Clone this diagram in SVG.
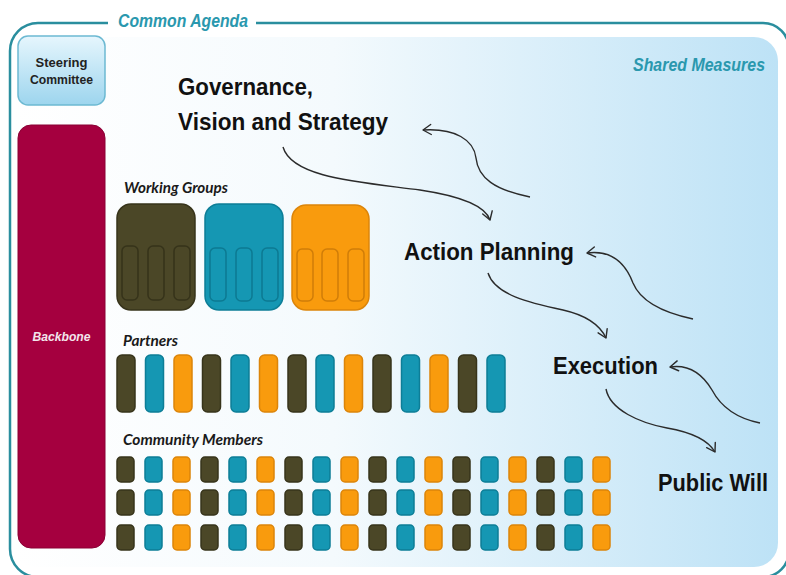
<svg xmlns="http://www.w3.org/2000/svg" width="786" height="575" viewBox="0 0 786 575">
<defs>
<linearGradient id="panelGrad" x1="0" y1="0" x2="1" y2="0">
<stop offset="0" stop-color="#ffffff"/>
<stop offset="0.42" stop-color="#f4fafd"/>
<stop offset="1" stop-color="#bde2f6"/>
</linearGradient>
<linearGradient id="steerGrad" x1="0" y1="0" x2="0" y2="1">
<stop offset="0" stop-color="#e6f6fd"/>
<stop offset="1" stop-color="#9dd5ee"/>
</linearGradient>
<marker id="chev" markerUnits="userSpaceOnUse" markerWidth="20" markerHeight="20" viewBox="-10 -10 20 20" refX="0" refY="0" orient="auto">
<path d="M-8,-5 L0,0 L-8,5" fill="none" stroke="#2b2b2b" stroke-width="1.4" stroke-linecap="round" stroke-linejoin="round"/>
</marker>
</defs>
<style>
.frame{fill:none;stroke:#2a8e9e;stroke-width:2.5}
.teal-t{font-family:"Liberation Sans",Arial,sans-serif;font-weight:bold;font-style:italic;font-size:17.5px;fill:#2a98ae}
.big{font-family:"Liberation Sans",Arial,sans-serif;font-weight:bold;font-size:24px;fill:#111}
.lbl{font-family:Lato,"Liberation Sans",sans-serif;font-weight:bold;font-style:italic;font-size:15px;fill:#1a1a1a}
.ol{fill:#4b4727;stroke:#37341b;stroke-width:1.5}
.te{fill:#1597b3;stroke:#0d7e97;stroke-width:1.5}
.or{fill:#f99b0d;stroke:#dc850a;stroke-width:1.5}
.in-ol{fill:#4b4727;stroke:#36331a;stroke-width:1.5}
.in-te{fill:#1597b3;stroke:#0c7a92;stroke-width:1.5}
.in-or{fill:#f99b0d;stroke:#d07d08;stroke-width:1.5}
.conn{fill:none;stroke:#2b2b2b;stroke-width:1.4;marker-end:url(#chev)}
</style>

<rect x="0" y="0" width="786" height="575" fill="#ffffff"/>

<g id="shared-measures">
<rect x="12" y="37" width="766" height="530" rx="24" fill="url(#panelGrad)"/>
<text class="teal-t" x="633" y="71" textLength="132" lengthAdjust="spacingAndGlyphs">Shared Measures</text>
</g>

<g id="common-agenda">
<path class="frame" d="M108,23 H38 A28,28 0 0 0 10,51 V549 A28,28 0 0 0 38,577 H763 A26,26 0 0 0 789,551 V49 A26,26 0 0 0 763,23 H256"/>
<text class="teal-t" x="118" y="27" textLength="130" lengthAdjust="spacingAndGlyphs">Common Agenda</text>
</g>

<g id="steering-committee">
<rect x="18" y="36" width="87" height="69" rx="10" fill="url(#steerGrad)" stroke="#6cb9d2" stroke-width="1.5"/>
<text x="61.5" y="67" text-anchor="middle" font-family="Liberation Sans, Arial, sans-serif" font-weight="bold" font-size="13" fill="#222" textLength="52" lengthAdjust="spacingAndGlyphs">Steering</text>
<text x="61.5" y="84" text-anchor="middle" font-family="Liberation Sans, Arial, sans-serif" font-weight="bold" font-size="13" fill="#222" textLength="63" lengthAdjust="spacingAndGlyphs">Committee</text>
</g>

<g id="backbone">
<rect x="18" y="125" width="87" height="423" rx="13" fill="#a5003f" stroke="#8a0034" stroke-width="1"/>
<text x="61.5" y="341" text-anchor="middle" font-family="Liberation Sans, Arial, sans-serif" font-weight="bold" font-style="italic" font-size="12.5" fill="#f3e6ec" textLength="58" lengthAdjust="spacingAndGlyphs">Backbone</text>
</g>

<g id="governance">
<text class="big" x="178" y="95" textLength="135" lengthAdjust="spacingAndGlyphs">Governance,</text>
<text class="big" x="178" y="130" textLength="210" lengthAdjust="spacingAndGlyphs">Vision and Strategy</text>
</g>
<g id="action-planning">
<text class="big" x="404" y="260" textLength="170" lengthAdjust="spacingAndGlyphs">Action Planning</text>
</g>
<g id="execution">
<text class="big" x="553" y="374" textLength="105" lengthAdjust="spacingAndGlyphs">Execution</text>
</g>
<g id="public-will">
<text class="big" x="658" y="491" textLength="110" lengthAdjust="spacingAndGlyphs">Public Will</text>
</g>

<g id="working-groups">
<text class="lbl" x="124" y="193" textLength="104" lengthAdjust="spacingAndGlyphs">Working Groups</text>
<rect class="ol" x="117" y="204" width="78" height="106" rx="14"/>
<rect class="in-ol" x="122" y="246" width="16" height="54" rx="5"/>
<rect class="in-ol" x="148" y="246" width="16" height="54" rx="5"/>
<rect class="in-ol" x="174" y="246" width="16" height="54" rx="5"/>
<rect class="te" x="205" y="204" width="78" height="106" rx="14"/>
<rect class="in-te" x="210" y="248" width="16" height="53" rx="5"/>
<rect class="in-te" x="236" y="248" width="16" height="53" rx="5"/>
<rect class="in-te" x="262" y="248" width="16" height="53" rx="5"/>
<rect class="or" x="292" y="205" width="77" height="105" rx="14"/>
<rect class="in-or" x="297" y="249" width="16" height="52" rx="5"/>
<rect class="in-or" x="322" y="249" width="16" height="52" rx="5"/>
<rect class="in-or" x="348" y="249" width="16" height="52" rx="5"/>
</g>

<g id="partners">
<text class="lbl" x="123" y="346" textLength="55" lengthAdjust="spacingAndGlyphs">Partners</text>
<rect class="ol" x="117" y="355" width="18" height="57" rx="5"/>
<rect class="te" x="145.5" y="355" width="18" height="57" rx="5"/>
<rect class="or" x="174" y="355" width="18" height="57" rx="5"/>
<rect class="ol" x="202.5" y="355" width="18" height="57" rx="5"/>
<rect class="te" x="231" y="355" width="18" height="57" rx="5"/>
<rect class="or" x="259.5" y="355" width="18" height="57" rx="5"/>
<rect class="ol" x="288" y="355" width="18" height="57" rx="5"/>
<rect class="te" x="316" y="355" width="18" height="57" rx="5"/>
<rect class="or" x="344.5" y="355" width="18" height="57" rx="5"/>
<rect class="ol" x="373" y="355" width="18" height="57" rx="5"/>
<rect class="te" x="401.5" y="355" width="18" height="57" rx="5"/>
<rect class="or" x="430" y="355" width="18" height="57" rx="5"/>
<rect class="ol" x="458.5" y="355" width="18" height="57" rx="5"/>
<rect class="te" x="487" y="355" width="18" height="57" rx="5"/>
</g>

<g id="community-members">
<text class="lbl" x="123" y="445" textLength="140" lengthAdjust="spacingAndGlyphs">Community Members</text>
<g id="cm-row1">
<rect class="ol" x="117" y="457" width="17" height="25" rx="4"/>
<rect class="te" x="145" y="457" width="17" height="25" rx="4"/>
<rect class="or" x="173" y="457" width="17" height="25" rx="4"/>
<rect class="ol" x="201" y="457" width="17" height="25" rx="4"/>
<rect class="te" x="229" y="457" width="17" height="25" rx="4"/>
<rect class="or" x="257" y="457" width="17" height="25" rx="4"/>
<rect class="ol" x="285" y="457" width="17" height="25" rx="4"/>
<rect class="te" x="313" y="457" width="17" height="25" rx="4"/>
<rect class="or" x="341" y="457" width="17" height="25" rx="4"/>
<rect class="ol" x="369" y="457" width="17" height="25" rx="4"/>
<rect class="te" x="397" y="457" width="17" height="25" rx="4"/>
<rect class="or" x="425" y="457" width="17" height="25" rx="4"/>
<rect class="ol" x="453" y="457" width="17" height="25" rx="4"/>
<rect class="te" x="481" y="457" width="17" height="25" rx="4"/>
<rect class="or" x="509" y="457" width="17" height="25" rx="4"/>
<rect class="ol" x="537" y="457" width="17" height="25" rx="4"/>
<rect class="te" x="565" y="457" width="17" height="25" rx="4"/>
<rect class="or" x="593" y="457" width="17" height="25" rx="4"/>
</g>
<g id="cm-row2">
<rect class="ol" x="117" y="490" width="17" height="25" rx="4"/>
<rect class="te" x="145" y="490" width="17" height="25" rx="4"/>
<rect class="or" x="173" y="490" width="17" height="25" rx="4"/>
<rect class="ol" x="201" y="490" width="17" height="25" rx="4"/>
<rect class="te" x="229" y="490" width="17" height="25" rx="4"/>
<rect class="or" x="257" y="490" width="17" height="25" rx="4"/>
<rect class="ol" x="285" y="490" width="17" height="25" rx="4"/>
<rect class="te" x="313" y="490" width="17" height="25" rx="4"/>
<rect class="or" x="341" y="490" width="17" height="25" rx="4"/>
<rect class="ol" x="369" y="490" width="17" height="25" rx="4"/>
<rect class="te" x="397" y="490" width="17" height="25" rx="4"/>
<rect class="or" x="425" y="490" width="17" height="25" rx="4"/>
<rect class="ol" x="453" y="490" width="17" height="25" rx="4"/>
<rect class="te" x="481" y="490" width="17" height="25" rx="4"/>
<rect class="or" x="509" y="490" width="17" height="25" rx="4"/>
<rect class="ol" x="537" y="490" width="17" height="25" rx="4"/>
<rect class="te" x="565" y="490" width="17" height="25" rx="4"/>
<rect class="or" x="593" y="490" width="17" height="25" rx="4"/>
</g>
<g id="cm-row3">
<rect class="ol" x="117" y="525" width="17" height="25" rx="4"/>
<rect class="te" x="145" y="525" width="17" height="25" rx="4"/>
<rect class="or" x="173" y="525" width="17" height="25" rx="4"/>
<rect class="ol" x="201" y="525" width="17" height="25" rx="4"/>
<rect class="te" x="229" y="525" width="17" height="25" rx="4"/>
<rect class="or" x="257" y="525" width="17" height="25" rx="4"/>
<rect class="ol" x="285" y="525" width="17" height="25" rx="4"/>
<rect class="te" x="313" y="525" width="17" height="25" rx="4"/>
<rect class="or" x="341" y="525" width="17" height="25" rx="4"/>
<rect class="ol" x="369" y="525" width="17" height="25" rx="4"/>
<rect class="te" x="397" y="525" width="17" height="25" rx="4"/>
<rect class="or" x="425" y="525" width="17" height="25" rx="4"/>
<rect class="ol" x="453" y="525" width="17" height="25" rx="4"/>
<rect class="te" x="481" y="525" width="17" height="25" rx="4"/>
<rect class="or" x="509" y="525" width="17" height="25" rx="4"/>
<rect class="ol" x="537" y="525" width="17" height="25" rx="4"/>
<rect class="te" x="565" y="525" width="17" height="25" rx="4"/>
<rect class="or" x="593" y="525" width="17" height="25" rx="4"/>
</g>
</g>

<g id="connectors">
<path class="conn" d="M283,147 C292,178 360,182 420,190 C460,196 485,205 490,220"/>
<path class="conn" d="M530,197 C495,190 478,178 476,158 C474,140 455,128 423,130"/>
<path class="conn" d="M488,273 C495,295 530,303 563,310 C585,315 600,325 606,338"/>
<path class="conn" d="M693,319 C660,312 640,300 633,283 C625,262 610,250 587,253"/>
<path class="conn" d="M606,389 C610,410 640,423 667,428 C690,432 708,440 715,452"/>
<path class="conn" d="M760,423 C735,418 720,405 712,390 C703,375 690,364 670,367"/>
</g>
</svg>
